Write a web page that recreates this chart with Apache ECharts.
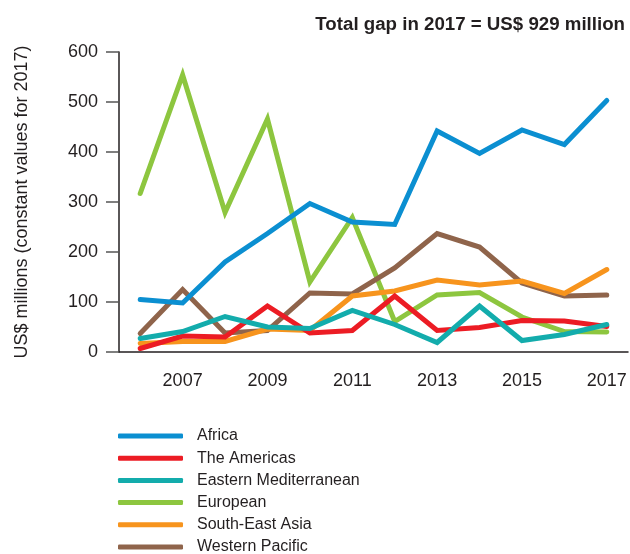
<!DOCTYPE html>
<html>
<head>
<meta charset="utf-8">
<script src="https://cdn.jsdelivr.net/npm/echarts@6/dist/echarts.min.js"></script>
<style>
  html, body { margin: 0; padding: 0; background: #fff; }
  #chart { width: 630px; height: 554px; }
</style>
</head>
<body>
<div id="chart"></div>
<script>
// Funding gap by WHO region, US$ millions (constant 2017 values)
const years = ['2006','2007','2008','2009','2010','2011','2012','2013','2014','2015','2016','2017'];

const africa        = [105, 98, 180, 237, 297, 260, 255, 442, 397, 444, 415, 503];
const americas      = [7, 32, 30, 92, 38, 43, 112, 43, 49, 63, 62, 51];
const easternMed    = [27, 41, 71, 50, 47, 83, 55, 19, 92, 23, 35, 55];
const european      = [317, 554, 279, 466, 140, 269, 61, 114, 119, 70, 41, 40];
const southEastAsia = [17, 21, 21, 46, 43, 112, 122, 144, 134, 142, 117, 165];
const westernPac    = [37, 125, 38, 43, 118, 116, 168, 237, 210, 138, 112, 114];

const yTicks = [0, 100, 200, 300, 400, 500, 600];

const titleText = 'Total gap in 2017 = US$ 929 million';
const yAxisTitle = 'US$ millions (constant values for 2017)';

const FONT = '"Liberation Sans", Arial, sans-serif';
const INK = '#231f20';

const seriesDefs = [
  { name: 'Africa', data: africa, color: '#0b8fd1', z: 8 },
  { name: 'The Americas', data: americas, color: '#ec1c24', z: 5 },
  { name: 'Eastern Mediterranean', data: easternMed, color: '#13acac', z: 6 },
  { name: 'European', data: european, color: '#8dc63f', z: 2 },
  { name: 'South-East Asia', data: southEastAsia, color: '#f7941d', z: 4 },
  { name: 'Western Pacific', data: westernPac, color: '#8f644b', z: 3 }
];

const chart = echarts.init(document.getElementById('chart'), null, { renderer: 'canvas' });

chart.setOption({
  backgroundColor: '#fff',
  animation: false,
  title: {
    text: titleText,
    right: 5,
    top: 15,
    padding: 0,
    textStyle: { fontFamily: FONT, fontSize: 18.7, fontWeight: 'bold', color: INK }
  },
  grid: { left: 119, right: 2, top: 52, bottom: 202, containLabel: false, outerBoundsMode: 'none' },
  legend: {
    orient: 'vertical',
    left: 118,
    top: 425,
    height: 140,
    padding: 0,
    itemWidth: 65,
    itemHeight: 5,
    itemGap: 0.2,
    icon: 'roundRect',
    textStyle: { fontFamily: FONT, fontSize: 16, color: INK, lineHeight: 22, padding: [0, 0, 0, 9] },
    data: seriesDefs.map(s => s.name)
  },
  xAxis: {
    type: 'category',
    data: years,
    boundaryGap: true,
    axisLine: { lineStyle: { color: INK, width: 1.5 } },
    axisTick: {
      alignWithLabel: true,
      length: 13,
      interval: (i) => i % 2 === 1,
      lineStyle: { color: '#555', width: 1.5 }
    },
    axisLabel: {
      interval: (i) => i % 2 === 1,
      margin: 20,
      fontFamily: FONT,
      fontSize: 18,
      color: INK
    },
    splitLine: { show: false }
  },
  yAxis: {
    type: 'value',
    min: yTicks[0],
    max: yTicks[yTicks.length - 1],
    interval: 100,
    name: yAxisTitle,
    nameLocation: 'middle',
    nameGap: 88,
    nameTextStyle: { fontFamily: FONT, fontSize: 18, color: INK },
    axisLine: { show: true, lineStyle: { color: INK, width: 1.5 } },
    axisTick: { show: true, length: 13, lineStyle: { color: '#555', width: 1.5 } },
    axisLabel: { margin: 21, fontFamily: FONT, fontSize: 18, color: INK },
    splitLine: { show: false }
  },
  series: seriesDefs.map(s => ({
    name: s.name,
    type: 'line',
    data: s.data,
    z: s.z,
    symbol: 'none',
    showSymbol: false,
    color: s.color,
    lineStyle: { color: s.color, width: 5, cap: 'round', join: 'miter' },
    emphasis: { disabled: true }
  }))
});
</script>
</body>
</html>
